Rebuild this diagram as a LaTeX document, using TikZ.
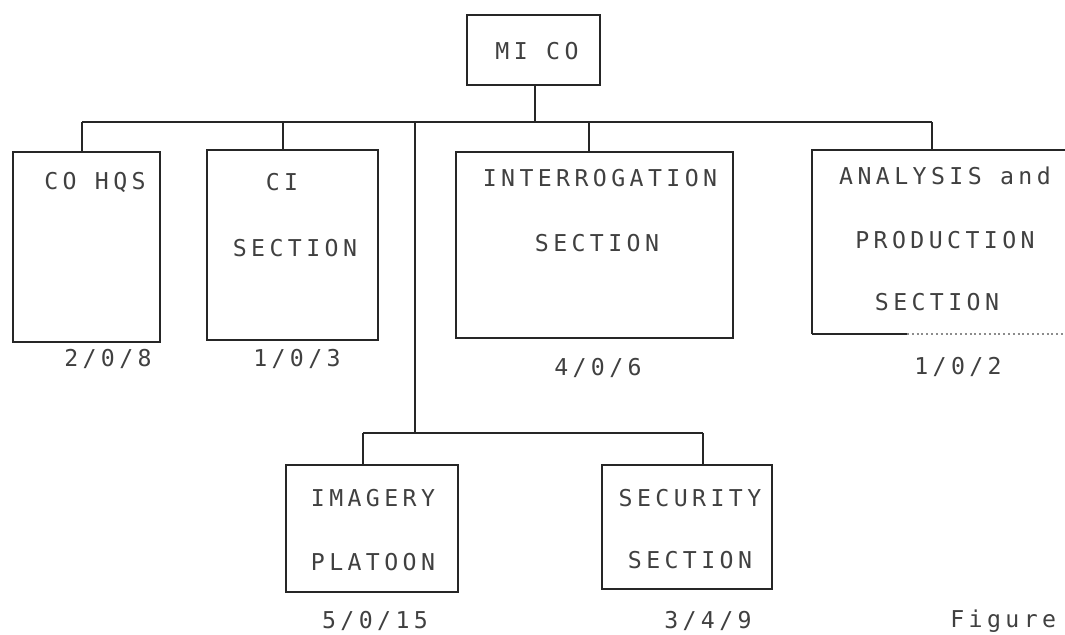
\documentclass[tikz,border=0pt]{standalone}
\usepackage{fontspec}
\newfontfamily\plotfont[LetterSpace=19]{DejaVu Sans Mono}
\usetikzlibrary{positioning}

\begin{document}
\begin{tikzpicture}[
 x=0.25mm,y=-0.25mm,
 font=\plotfont\fontsize{16.5pt}{19pt}\selectfont,
 unit/.style 2 args={draw=black!85,line width=0.5mm,outer sep=0pt,
             minimum width=#1*0.25mm,minimum height=#2*0.25mm,
             anchor=north west,inner sep=0pt},
 link/.style={draw=black!85,line width=0.5mm},
 txt/.style={text=black!75,inner sep=0pt}]
\useasboundingbox (0,0) rectangle (1065,635);
% top of the company
\node[unit={133}{70}] (mico) at (467,15) {};
\node[txt] (micoT) at (537,51) {MI CO};
% first row of sections
\node[unit={147}{190}] (cohqs) at (13,152) {};
\node[unit={171}{190}] (ci) at (207,150) {};
\node[unit={277}{186}] (interr) at (456,152) {};
\node[unit={265}{184},draw=none] (anal) at (812,150) {};
\draw[link] (anal.south west) -- (anal.north west) -- (anal.north east);
\draw[link] (anal.south west) -- ++(95,0) coordinate (analCut);
\draw[link,draw=black!45,dotted] (analCut) -- (anal.south east);
\node[txt] (cohqsA) at (95,182) {CO HQS};
\node[txt] (ciA) at (282,182) {CI};
\node[txt] (ciB) at (295,248) {SECTION};
\node[txt] (interrA) at (600,178) {INTERROGATION};
\node[txt] (interrB) at (597,243) {SECTION};
\node[txt] (analA) at (945,176) {ANALYSIS and};
\node[txt] (analB) at (945,240) {PRODUCTION};
\node[txt] (analC) at (937,302) {SECTION};
\node[txt] (cohqsN) at (108,359) {2/0/8};
\node[txt] (ciN) at (297,359) {1/0/3};
\node[txt] (interrN) at (598,368) {4/0/6};
\node[txt] (analN) at (958,367) {1/0/2};
% second row
\node[unit={172}{127}] (imag) at (286,465) {};
\node[unit={170}{124}] (secu) at (602,465) {};
\node[txt] (imagA) at (373,498) {IMAGERY};
\node[txt] (imagB) at (373,562) {PLATOON};
\node[txt] (secuA) at (690,498) {SECURITY};
\node[txt] (secuB) at (690,560) {SECTION};
\node[txt] (imagN) at (375,621) {5/0/15};
\node[txt] (secuN) at (708,621) {3/4/9};
\node[txt,anchor=west] (fig) at (950,621) {Figure};
% connectors
\coordinate (bar) at (535,122);
\coordinate (dCo) at (82,122);
\coordinate (dCi) at (283,122);
\coordinate (dTrunk) at (415,122);
\coordinate (dInt) at (589,122);
\coordinate (dAn) at (932,122);
\coordinate (sub) at (415,433);
\coordinate (dIm) at (363,433);
\coordinate (dSe) at (703,433);
\draw[link] (mico.south -| bar) -- (bar);
\draw[link] (dCo) -- (dAn);
\draw[link] (dCo) -- (dCo |- cohqs.north);
\draw[link] (dCi) -- (dCi |- ci.north);
\draw[link] (dInt) -- (dInt |- interr.north);
\draw[link] (dAn) -- (dAn |- anal.north);
\draw[link] (dTrunk) -- (sub);
\draw[link] (dIm) -- (dSe);
\draw[link] (dIm) -- (dIm |- imag.north);
\draw[link] (dSe) -- (dSe |- secu.north);
\end{tikzpicture}
\end{document}
